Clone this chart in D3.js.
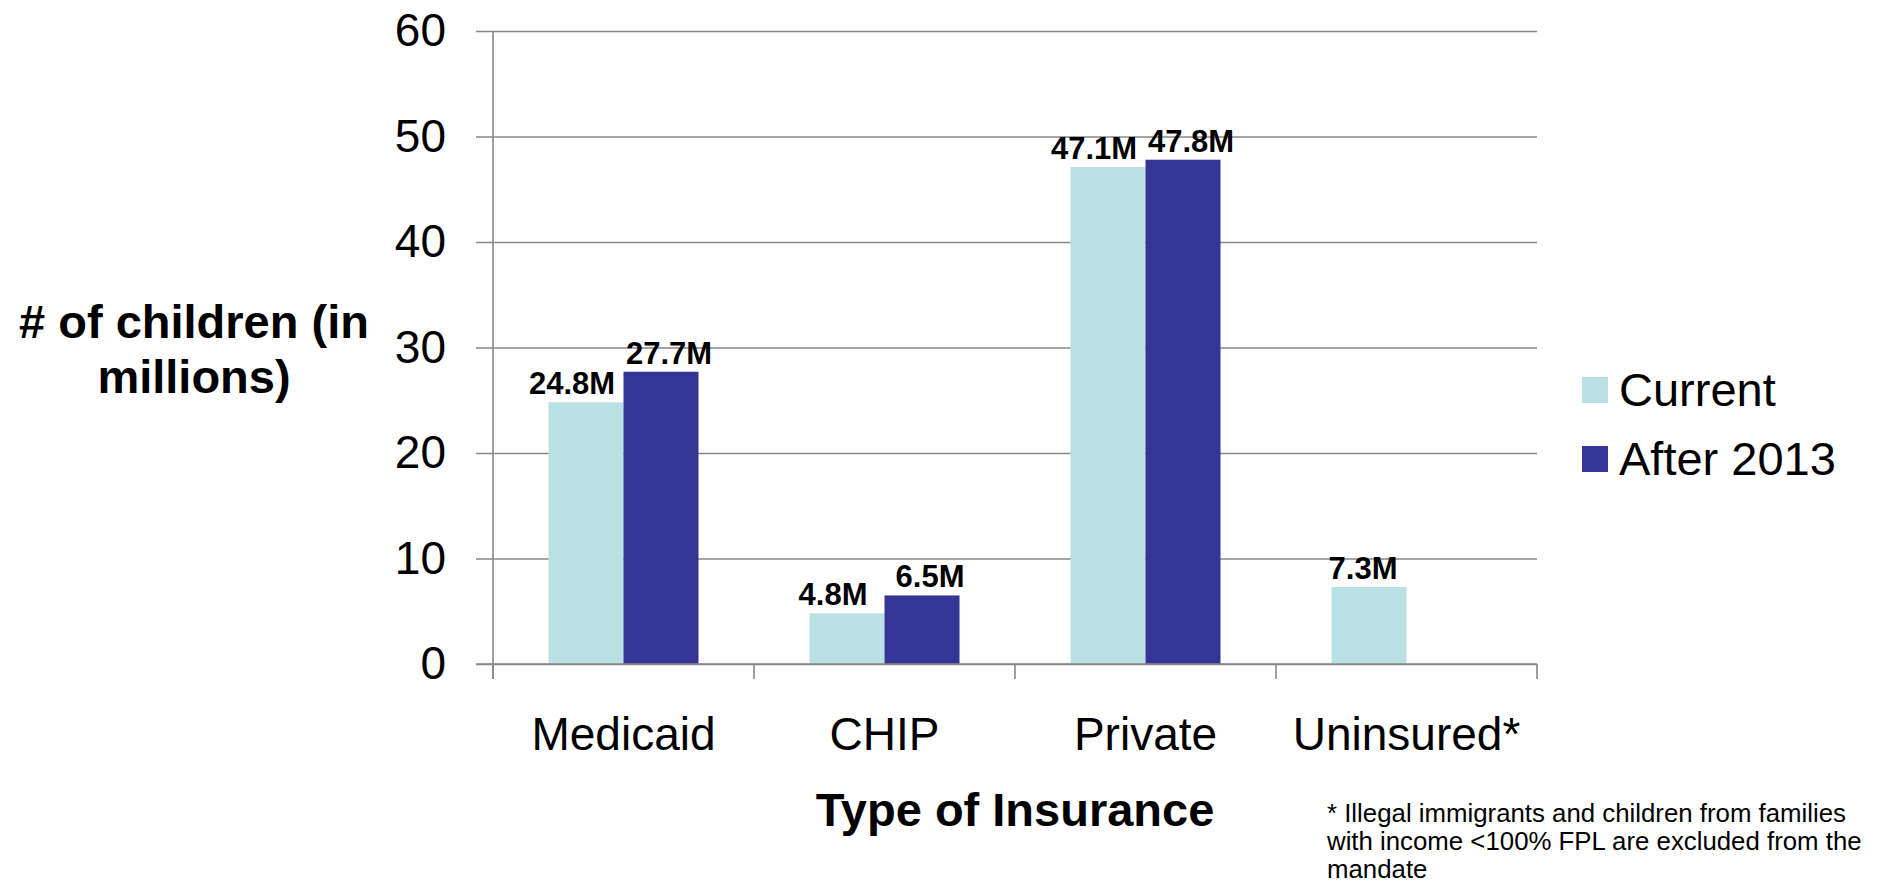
<!DOCTYPE html>
<html>
<head>
<meta charset="utf-8">
<script src="https://cdn.jsdelivr.net/npm/d3@7"></script>
<style>
  body { margin: 0; background: #fff; }
  text { font-family: "Liberation Sans", Arial, sans-serif; }
</style>
</head>
<body>
<div id="bar-chart"></div>
<script>
// Data
const categories = ["Medicaid", "CHIP", "Private", "Uninsured*"];
const seriesNames = ["Current", "After 2013"];
const currentValues = [24.8, 4.8, 47.1, 7.3];
const after2013Values = [27.7, 6.5, 47.8, null];
const yTicks = [0, 10, 20, 30, 40, 50, 60];
const footnoteLines = [
  "* Illegal immigrants and children from families",
  "with income <100% FPL are excluded from the",
  "mandate"
];

const colors = {"Current": "#b9e0e3", "After 2013": "#353598"};
const gridColor = "#878787";

const drawBarChart = () => {

  // ------ Drawing area ------- //
  const width = 1896;
  const height = 887;
  const margin = {top: 31, right: 359, bottom: 223, left: 493};
  const innerWidth = width - margin.left - margin.right;
  const innerHeight = height - margin.top - margin.bottom;

  const svg = d3.select("#bar-chart")
    .append("svg")
    .attr("width", width)
    .attr("height", height)
    .attr("viewBox", [0, 0, width, height]);
  const innerChart = svg
    .append("g")
    .attr("transform", `translate(${margin.left}, ${margin.top})`);

  // ------ Scales ------- //
  const xScale = d3.scaleBand()
    .domain(categories)
    .range([0, innerWidth])
    .padding(0);
  const xSub = d3.scaleBand()
    .domain(seriesNames)
    .range([0, xScale.bandwidth()])
    .paddingInner(0)
    .paddingOuter(0.74);
  const yScale = d3.scaleLinear()
    .domain([0, 60])
    .range([innerHeight, 0]);

  // ------ Grid + axes ------- //
  const leftAxis = d3.axisLeft(yScale)
    .tickValues(yTicks)
    .tickSize(innerWidth + 17)
    .tickPadding(30)
    .tickFormat(d3.format("d"));
  innerChart
    .append("g")
      .attr("class", "axis-y")
      .attr("transform", `translate(${innerWidth}, 0)`)
      .call(leftAxis)
      .call(g => g.select(".domain").remove());
  innerChart.selectAll(".axis-y line")
    .attr("stroke", gridColor)
    .attr("stroke-width", 1.6);
  innerChart.selectAll(".axis-y text")
    .attr("fill", "#000")
    .style("font-size", "46px");

  // vertical axis line
  innerChart
    .append("line")
      .attr("x1", 0).attr("x2", 0)
      .attr("y1", 0).attr("y2", innerHeight + 15)
      .attr("stroke", gridColor)
      .attr("stroke-width", 1.6);

  // category boundary ticks
  const boundaries = categories.map(c => xScale(c)).concat([innerWidth]);
  innerChart
    .selectAll(".cat-tick")
    .data(boundaries)
    .join("line")
      .attr("class", "cat-tick")
      .attr("x1", d => d).attr("x2", d => d)
      .attr("y1", innerHeight).attr("y2", innerHeight + 15)
      .attr("stroke", gridColor)
      .attr("stroke-width", 1.6);

  // category labels
  innerChart
    .selectAll(".cat-label")
    .data(categories)
    .join("text")
      .attr("class", "cat-label")
      .text(d => d)
      .attr("x", d => xScale(d) + xScale.bandwidth() / 2)
      .attr("y", innerHeight + 86)
      .attr("text-anchor", "middle")
      .style("font-size", "46px");

  // ------ Bars ------- //
  const rows = [];
  categories.forEach((c, i) => {
    rows.push({cat: c, series: "Current", value: currentValues[i], pair: after2013Values[i] != null});
    if (after2013Values[i] != null) {
      rows.push({cat: c, series: "After 2013", value: after2013Values[i], pair: true});
    }
  });

  innerChart
    .selectAll(".bar")
    .data(rows)
    .join("rect")
      .attr("class", "bar")
      .attr("x", d => xScale(d.cat) + xSub(d.series))
      .attr("y", d => yScale(d.value))
      .attr("width", xSub.bandwidth())
      .attr("height", d => innerHeight - yScale(d.value))
      .attr("fill", d => colors[d.series]);

  // redraw baseline over bars
  innerChart
    .append("line")
      .attr("x1", -17).attr("x2", innerWidth)
      .attr("y1", innerHeight).attr("y2", innerHeight)
      .attr("stroke", gridColor)
      .attr("stroke-width", 1.6);

  // value labels
  innerChart
    .selectAll(".value-label")
    .data(rows)
    .join("text")
      .attr("class", "value-label")
      .text(d => d3.format(".1f")(d.value) + "M")
      .attr("x", d => {
        const dx = d.series === "Current" ? (d.pair ? -14 : -6) : 8;
        return xScale(d.cat) + xSub(d.series) + xSub.bandwidth() / 2 + dx;
      })
      .attr("y", d => yScale(d.value) - 8)
      .attr("text-anchor", "middle")
      .style("font-size", "31px")
      .style("font-weight", "bold");

  // ------ Axis titles ------- //
  svg
    .append("text")
      .attr("text-anchor", "middle")
      .style("font-size", "47px")
      .style("font-weight", "bold")
    .selectAll("tspan")
    .data(["# of children (in", "millions)"])
    .join("tspan")
      .attr("x", 194)
      .attr("y", (d, i) => 338 + i * 55)
      .text(d => d);

  svg
    .append("text")
      .text("Type of Insurance")
      .attr("x", margin.left + innerWidth / 2)
      .attr("y", 826)
      .attr("text-anchor", "middle")
      .style("font-size", "47px")
      .style("font-weight", "bold");

  // ------ Legend ------- //
  const legend = svg
    .append("g")
      .attr("transform", "translate(1582, 377)");
  const legendItems = legend
    .selectAll("g")
    .data(seriesNames)
    .join("g")
      .attr("transform", (d, i) => `translate(0, ${i * 69})`);
  legendItems
    .append("rect")
      .attr("width", 26)
      .attr("height", 26)
      .attr("fill", d => colors[d]);
  legendItems
    .append("text")
      .text(d => d)
      .attr("x", 37)
      .attr("y", 29)
      .style("font-size", "47px");

  // ------ Footnote ------- //
  svg
    .append("text")
      .style("font-size", "25.8px")
    .selectAll("tspan")
    .data(footnoteLines)
    .join("tspan")
      .attr("x", 1327)
      .attr("y", (d, i) => 822 + i * 28)
      .text(d => d);
};

drawBarChart();
</script>
</body>
</html>
